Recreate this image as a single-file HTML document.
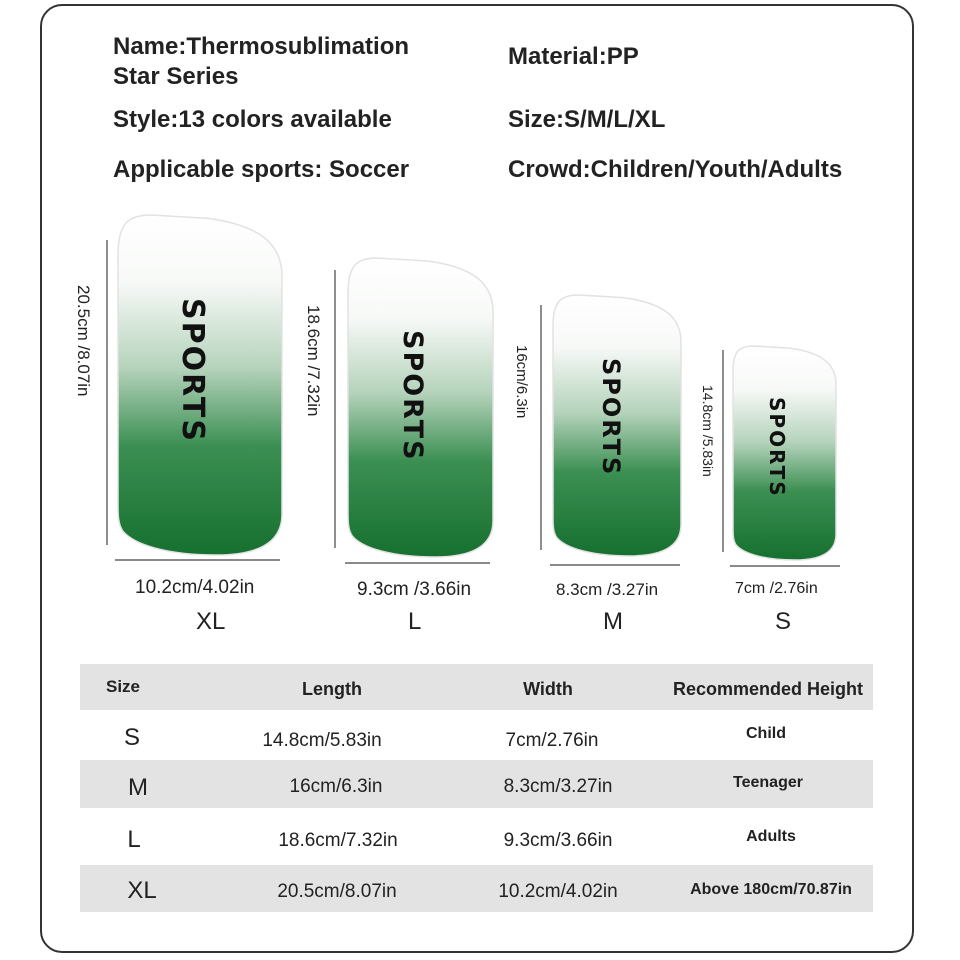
<!DOCTYPE html>
<html><head><meta charset="utf-8">
<style>
body{margin:0;width:960px;height:960px;background:#fff;font-family:"Liberation Sans",sans-serif;position:relative;overflow:hidden}
.frame{position:absolute;left:40px;top:4px;width:870px;height:945px;border:2px solid #333;border-radius:22px}
.t{position:absolute;font-weight:bold;font-size:24px;color:#222;white-space:nowrap}
.dim{position:absolute;font-size:19px;color:#222;white-space:nowrap}
.sz{position:absolute;font-size:24px;color:#222}
.vlab{position:absolute;font-size:17px;color:#222;white-space:nowrap;transform-origin:left top;transform:rotate(90deg)}
.sp{position:absolute;font-weight:bold;color:#111;white-space:nowrap;transform-origin:left top;transform:rotate(90deg);font-family:"DejaVu Sans",sans-serif;letter-spacing:2px}
.row{position:absolute;left:80px;width:793px}
.cell{position:absolute;font-size:19px;color:#222;white-space:nowrap;transform:translateX(-50%)}
</style></head><body>
<div class="frame"></div>
<div class="t" style="left:113px;top:33px">Name:Thermosublimation</div>
<div class="t" style="left:113px;top:63px">Star Series</div>
<div class="t" style="left:508px;top:43px">Material:PP</div>
<div class="t" style="left:113px;top:106px">Style:13 colors available</div>
<div class="t" style="left:508px;top:106px">Size:S/M/L/XL</div>
<div class="t" style="left:113px;top:156px">Applicable sports: Soccer</div>
<div class="t" style="left:508px;top:156px">Crowd:Children/Youth/Adults</div>

<svg width="960" height="960" style="position:absolute;left:0;top:0">
<defs>
<linearGradient id="gr" x1="0" y1="0" x2="0" y2="1">
<stop offset="0" stop-color="#ffffff"/><stop offset="0.2" stop-color="#f7f9f7"/>
<stop offset="0.45" stop-color="#b5d3bb"/><stop offset="0.68" stop-color="#3b8f52"/>
<stop offset="1" stop-color="#16702f"/></linearGradient>
<g id="shape"><path vector-effect="non-scaling-stroke" stroke="#e2e2e2" stroke-width="1.5" d="M0,0.12 C0,0.03 0.05,0 0.2,0 L0.55,0.01 C0.85,0.03 1,0.08 1,0.18 L1,0.88 C1,0.95 0.9,1 0.6,1 C0.3,1 0.1,0.97 0.03,0.93 C0,0.91 0,0.88 0,0.85 Z"/></g>
</defs>
<g stroke="#444" stroke-width="1.2">
<line x1="107" y1="240" x2="107" y2="545"/><line x1="115" y1="560" x2="280" y2="560"/>
<line x1="335" y1="270" x2="335" y2="548"/><line x1="345" y1="563" x2="490" y2="563"/>
<line x1="541" y1="305" x2="541" y2="550"/><line x1="550" y1="565" x2="680" y2="565"/>
<line x1="723" y1="350" x2="723" y2="552"/><line x1="730" y1="566" x2="840" y2="566"/>
</g>
<g><g transform="translate(118,215) scale(164,340)" fill="url(#gr)"><use href="#shape"/></g></g>
<g><g transform="translate(348,258) scale(145,299)" fill="url(#gr)"><use href="#shape"/></g></g>
<g><g transform="translate(553,295) scale(128,261)" fill="url(#gr)"><use href="#shape"/></g></g>
<g><g transform="translate(733,346) scale(103,214)" fill="url(#gr)"><use href="#shape"/></g></g>
</svg>
<div class="sp" style="left:210px;top:298px;font-size:30px">SPORTS</div>
<div class="sp" style="left:428px;top:330px;font-size:27px">SPORTS</div>
<div class="sp" style="left:625px;top:358px;font-size:24px">SPORTS</div>
<div class="sp" style="left:789px;top:397px;font-size:20px">SPORTS</div>

<div class="vlab" style="left:93px;top:285px">20.5cm /8.07in</div>
<div class="vlab" style="left:323px;top:305px">18.6cm /7.32in</div>
<div class="vlab" style="left:530px;top:345px;font-size:15px">16cm/6.3in</div>
<div class="vlab" style="left:716px;top:385px;font-size:14px">14.8cm /5.83in</div>

<div class="dim" style="left:135px;top:577px">10.2cm/4.02in</div>
<div class="dim" style="left:357px;top:579px">9.3cm /3.66in</div>
<div class="dim" style="left:556px;top:580px;font-size:17px">8.3cm /3.27in</div>
<div class="dim" style="left:735px;top:580px;font-size:16px">7cm /2.76in</div>
<div class="sz" style="left:196px;top:608px">XL</div>
<div class="sz" style="left:408px;top:608px">L</div>
<div class="sz" style="left:603px;top:608px">M</div>
<div class="sz" style="left:775px;top:608px">S</div>

<div class="row" style="top:664px;height:46px;background:#e3e3e3">
<div class="cell" style="left:43px;top:13px;font-weight:bold;font-size:17px">Size</div>
<div class="cell" style="left:252px;top:15px;font-weight:bold;font-size:18px">Length</div>
<div class="cell" style="left:468px;top:15px;font-weight:bold;font-size:18px">Width</div>
<div class="cell" style="left:688px;top:15px;font-weight:bold;font-size:18px">Recommended Height</div>
</div>
<div class="row" style="top:710px;height:50px">
<div class="cell" style="left:52px;top:14px;font-size:24px">S</div>
<div class="cell" style="left:242px;top:20px">14.8cm/5.83in</div>
<div class="cell" style="left:472px;top:20px">7cm/2.76in</div>
<div class="cell" style="left:686px;top:15px;font-weight:bold;font-size:16px">Child</div>
</div>
<div class="row" style="top:760px;height:48px;background:#e3e3e3">
<div class="cell" style="left:58px;top:14px;font-size:24px">M</div>
<div class="cell" style="left:256px;top:16px">16cm/6.3in</div>
<div class="cell" style="left:478px;top:16px">8.3cm/3.27in</div>
<div class="cell" style="left:688px;top:14px;font-weight:bold;font-size:16px">Teenager</div>
</div>
<div class="row" style="top:808px;height:57px">
<div class="cell" style="left:54px;top:18px;font-size:24px">L</div>
<div class="cell" style="left:258px;top:22px">18.6cm/7.32in</div>
<div class="cell" style="left:478px;top:22px">9.3cm/3.66in</div>
<div class="cell" style="left:691px;top:20px;font-weight:bold;font-size:16px">Adults</div>
</div>
<div class="row" style="top:865px;height:47px;background:#e3e3e3">
<div class="cell" style="left:62px;top:12px;font-size:24px">XL</div>
<div class="cell" style="left:257px;top:16px">20.5cm/8.07in</div>
<div class="cell" style="left:478px;top:16px">10.2cm/4.02in</div>
<div class="cell" style="left:691px;top:16px;font-weight:bold;font-size:16px">Above 180cm/70.87in</div>
</div>
</body></html>
